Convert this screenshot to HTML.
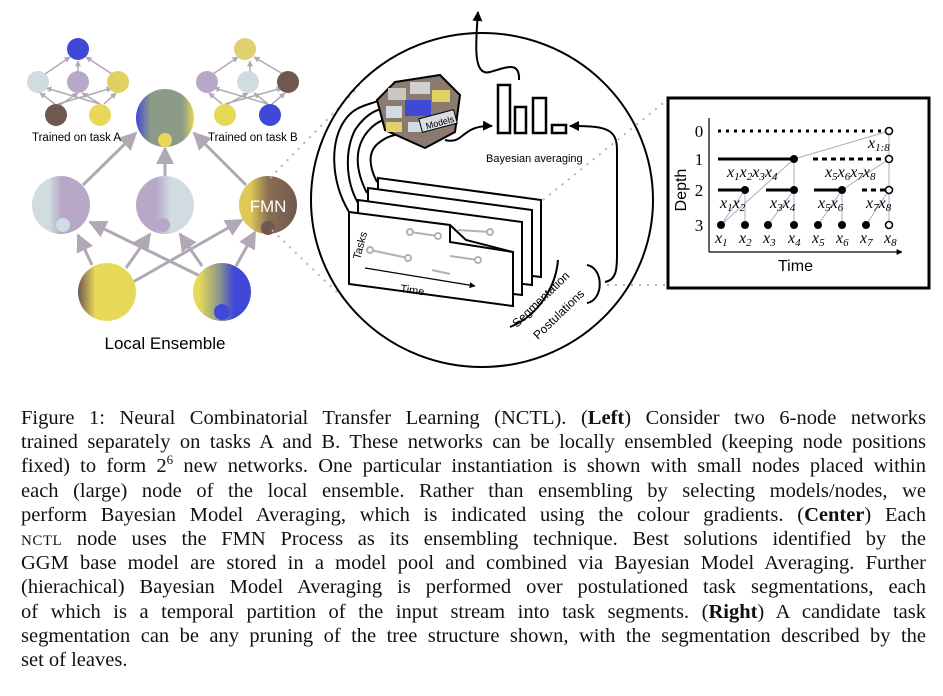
<!DOCTYPE html>
<html><head><meta charset="utf-8"><style>
body{margin:0;width:943px;height:696px;background:#fff;overflow:hidden;position:relative;font-family:"Liberation Sans",sans-serif}
svg{position:absolute;left:0;top:0}
.cap{position:absolute;left:21px;width:905px;font-family:"Liberation Serif",serif;font-size:20.5px;line-height:24.2px;color:#111}
.cap div{text-align:justify;text-align-last:justify;white-space:nowrap;height:24.2px}
.cap div.last{text-align-last:left}
.sc{font-size:15px;letter-spacing:0.5px}
</style></head><body>
<svg width="943" height="400" viewBox="0 0 943 400">
<defs>
<marker id="ga" viewBox="0 0 10 10" refX="9" refY="5" markerWidth="4" markerHeight="4" orient="auto"><path d="M0,0L10,5L0,10z" fill="#b0a8b4"/></marker>
<marker id="gs" viewBox="0 0 10 10" refX="9" refY="5" markerWidth="6" markerHeight="6" orient="auto"><path d="M0,0L10,5L0,10z" fill="#b0a8b4"/></marker>
<marker id="ba" viewBox="0 0 10 10" refX="9" refY="5" markerWidth="5" markerHeight="5" orient="auto"><path d="M0,0L10,5L0,10z" fill="#000"/></marker>
<linearGradient id="g1" x1="0" x2="1"><stop offset="0" stop-color="#4048d8"/><stop offset="0.25" stop-color="#8c9a88"/><stop offset="0.8" stop-color="#8c9a88"/><stop offset="1" stop-color="#e8d858"/></linearGradient>
<linearGradient id="g2" x1="0" x2="1"><stop offset="0.3" stop-color="#d0dce0"/><stop offset="0.5" stop-color="#b8a8c8"/></linearGradient>
<linearGradient id="g3" x1="0" x2="1"><stop offset="0.35" stop-color="#b8a8c8"/><stop offset="0.6" stop-color="#d0dce0"/></linearGradient>
<linearGradient id="g4" x1="0" x2="1"><stop offset="0.2" stop-color="#e0c858"/><stop offset="0.5" stop-color="#8a7050"/><stop offset="1" stop-color="#705850"/></linearGradient>
<linearGradient id="g5" x1="0" x2="1"><stop offset="0" stop-color="#705850"/><stop offset="0.3" stop-color="#e8d858"/></linearGradient>
<linearGradient id="g6" x1="0" x2="1"><stop offset="0.1" stop-color="#e8d858"/><stop offset="0.45" stop-color="#8c9a88"/><stop offset="0.7" stop-color="#4048d8"/></linearGradient>
</defs>
<g stroke="#b0a8b4" stroke-width="1.5" marker-end="url(#ga)">
<line x1="78" y1="73" x2="78" y2="61"/><line x1="45" y1="74" x2="70" y2="57"/><line x1="112" y1="74" x2="86" y2="57"/>
<line x1="55" y1="104" x2="40" y2="93"/><line x1="58" y1="104" x2="112" y2="88"/><line x1="60" y1="105" x2="78" y2="93"/>
<line x1="100" y1="104" x2="46" y2="88"/><line x1="100" y1="104" x2="82" y2="93"/><line x1="104" y1="104" x2="116" y2="93"/>
<line x1="250" y1="73" x2="250" y2="61"/><line x1="213" y1="74" x2="238" y2="57"/><line x1="283" y1="74" x2="254" y2="57"/>
<line x1="222" y1="104" x2="209" y2="93"/><line x1="225" y1="104" x2="282" y2="88"/><line x1="226" y1="105" x2="248" y2="93"/>
<line x1="268" y1="104" x2="214" y2="88"/><line x1="268" y1="104" x2="254" y2="93"/><line x1="272" y1="104" x2="285" y2="93"/>
</g>
<g stroke="#b0a8b4" stroke-width="3" marker-end="url(#gs)">
<line x1="83" y1="185" x2="136" y2="133"/><line x1="165" y1="176" x2="165" y2="148"/><line x1="246" y1="185" x2="194" y2="133"/>
<line x1="92" y1="265" x2="78" y2="235"/><line x1="126" y1="268" x2="150" y2="234"/><line x1="133" y1="282" x2="242" y2="220"/>
<line x1="200" y1="276" x2="90" y2="222"/><line x1="202" y1="266" x2="180" y2="234"/><line x1="236" y1="266" x2="255" y2="232"/>
</g>
<circle cx="78" cy="49" r="11" fill="#4048d8"/>
<circle cx="38" cy="82" r="11" fill="#d0dce0"/><circle cx="78" cy="82" r="11" fill="#b8a8c8"/><circle cx="118" cy="82" r="11" fill="#e0d060"/>
<circle cx="56" cy="115" r="11" fill="#705850"/><circle cx="100" cy="115" r="11" fill="#e8d858"/>
<circle cx="245" cy="49" r="11" fill="#e0d070"/>
<circle cx="207" cy="82" r="11" fill="#b8a8c8"/><circle cx="248" cy="82" r="11" fill="#d0dce0"/><circle cx="288" cy="82" r="11" fill="#705850"/>
<circle cx="225" cy="115" r="11" fill="#e8d858"/><circle cx="270" cy="115" r="11" fill="#4048d8"/>
<text x="32" y="141" font-size="11.5">Trained on task A</text>
<text x="208" y="141" font-size="11.5">Trained on task B</text>
<circle cx="165" cy="118" r="29" fill="url(#g1)"/><circle cx="165" cy="140" r="7" fill="#e8d858"/>
<circle cx="61" cy="205" r="29" fill="url(#g2)"/><circle cx="63" cy="225" r="7" fill="#d0dce0"/>
<circle cx="165" cy="205" r="29" fill="url(#g3)"/><circle cx="163" cy="225" r="7" fill="#b8a8c8"/>
<circle cx="268" cy="205" r="29" fill="url(#g4)"/><circle cx="268" cy="228" r="7" fill="#705850"/>
<text x="268" y="212" font-size="17" fill="#fff" text-anchor="middle">FMN</text>
<circle cx="107" cy="292" r="29" fill="url(#g5)"/>
<circle cx="222" cy="292" r="29" fill="url(#g6)"/><circle cx="222" cy="312" r="8" fill="#4048d8"/>
<text x="165" y="349" font-size="17" text-anchor="middle">Local Ensemble</text>
<g stroke="#b8b0c0" stroke-width="2" stroke-dasharray="2,6" fill="none">
<line x1="270" y1="178" x2="360" y2="86"/><line x1="272" y1="230" x2="345" y2="300"/>
<line x1="543" y1="200" x2="667" y2="100"/><line x1="607" y1="285" x2="667" y2="285"/>
</g>
<ellipse cx="482" cy="200" rx="171" ry="167" fill="none" stroke="#000" stroke-width="2"/>
<g stroke="#000" stroke-width="2" fill="none">
<path d="M519,80 C520,60 505,68 490,72 C472,77 476,40 478,12" marker-end="url(#ba)"/>
<path d="M445,140 C465,145 460,125 492,126" marker-end="url(#ba)"/>
<path d="M605,282 C616,280 617,270 617,255 L617,150 C617,128 605,126 570,126" marker-end="url(#ba)"/>
<path d="M587,265 C604,268 604,300 587,303"/>
<path d="M558,260 C556,285 540,315 510,327"/>
<path d="M349,212 C330,180 330,140 345,120 C355,105 370,105 380,100"/>
<path d="M358,203 C345,180 345,150 355,130 C365,115 375,110 385,108"/>
<path d="M367,193 C355,170 355,150 365,135 C372,125 380,120 390,118"/>
<path d="M377,182 C368,165 368,150 380,142 C385,138 390,136 395,135"/>
</g>
<g stroke="#000" stroke-width="2" fill="#fff">
<polygon points="378,178 541,200 541,277 378,258"/>
<polygon points="368,188 532,210 532,285 368,266"/>
<polygon points="358,200 522,222 522,295 358,276"/>
<polygon points="349,212 450,225 466,240 513,252 513,306 349,284"/>
<polyline points="450,225 450,242 513,252" fill="none"/>
</g>
<g stroke="#aab4bc" stroke-width="2" fill="#fff">
<line x1="370" y1="250" x2="408" y2="258"/><circle cx="370" cy="250" r="3"/><circle cx="408" cy="258" r="3"/>
<line x1="410" y1="232" x2="438" y2="236"/><circle cx="410" cy="232" r="3"/><circle cx="438" cy="236" r="3"/>
<line x1="458" y1="230" x2="490" y2="232"/><circle cx="490" cy="232" r="3"/>
<line x1="450" y1="256" x2="478" y2="260"/><circle cx="478" cy="260" r="3"/>
<line x1="432" y1="270" x2="450" y2="274"/>
</g>
<line x1="365" y1="268" x2="475" y2="286" stroke="#000" stroke-width="1.2" marker-end="url(#ba)"/>
<text x="400" y="292" font-size="11" transform="rotate(8 400 292)">Time</text>
<text x="360" y="260" font-size="11" transform="rotate(-75 360 260)">Tasks</text>
<text x="517" y="328" font-size="12" transform="rotate(-44 517 328)">Segmentation</text>
<text x="538" y="340" font-size="12" transform="rotate(-44 538 340)">Postulations</text>
<polygon points="395,82 440,75 460,95 455,132 425,148 385,130 377,100" fill="#8a7a70" stroke="#000" stroke-width="2"/>
<rect x="388" y="88" width="18" height="12" fill="#c8c8c0"/><rect x="410" y="82" width="20" height="12" fill="#d0d0d0"/><rect x="432" y="90" width="18" height="12" fill="#e0d060"/>
<rect x="405" y="100" width="26" height="16" fill="#4048d8"/><rect x="386" y="106" width="16" height="12" fill="#d0dce0"/>
<rect x="386" y="122" width="16" height="10" fill="#e0d070"/><rect x="408" y="122" width="16" height="10" fill="#d0dce0"/>
<rect x="420" y="114" width="36" height="14" fill="#d8dce0" stroke="#000" stroke-width="1" transform="rotate(-15 438 121)"/>
<text x="425" y="126" font-size="9" transform="rotate(-15 438 121)">Models</text>
<g fill="#fff" stroke="#000" stroke-width="2.5">
<rect x="498" y="85" width="12" height="48"/><rect x="515" y="107" width="11" height="26"/><rect x="533" y="98" width="13" height="35"/><rect x="552" y="125" width="14" height="8"/>
</g>
<text x="486" y="162" font-size="11">Bayesian averaging</text>
<rect x="668" y="98" width="261" height="190" fill="#fff" stroke="#000" stroke-width="3"/>
<g stroke="#b0a8c8" stroke-width="1">
<line x1="721" y1="225" x2="794" y2="159"/><line x1="794" y1="159" x2="889" y2="131"/>
<line x1="745" y1="225" x2="745" y2="190"/><line x1="768" y1="225" x2="794" y2="190"/><line x1="794" y1="225" x2="794" y2="159"/>
<line x1="842" y1="225" x2="842" y2="190"/><line x1="818" y1="225" x2="842" y2="190"/><line x1="842" y1="190" x2="889" y2="159"/>
<line x1="866" y1="225" x2="889" y2="190"/><line x1="889" y1="225" x2="889" y2="131"/><line x1="721" y1="225" x2="745" y2="190"/>
</g>
<line x1="718" y1="131" x2="886" y2="131" stroke="#000" stroke-width="3" stroke-dasharray="3,5"/>
<line x1="718" y1="159" x2="794" y2="159" stroke="#000" stroke-width="3"/>
<line x1="813" y1="159" x2="886" y2="159" stroke="#000" stroke-width="3" stroke-dasharray="5,4"/>
<line x1="718" y1="190" x2="745" y2="190" stroke="#000" stroke-width="3"/>
<line x1="766" y1="190" x2="794" y2="190" stroke="#000" stroke-width="3"/>
<line x1="814" y1="190" x2="842" y2="190" stroke="#000" stroke-width="3"/>
<line x1="862" y1="190" x2="886" y2="190" stroke="#000" stroke-width="3" stroke-dasharray="5,4"/>
<g fill="#000">
<circle cx="794" cy="159" r="4"/><circle cx="745" cy="190" r="4"/><circle cx="794" cy="190" r="4"/><circle cx="842" cy="190" r="4"/>
<circle cx="721" cy="225" r="4"/><circle cx="745" cy="225" r="4"/><circle cx="768" cy="225" r="4"/><circle cx="794" cy="225" r="4"/><circle cx="818" cy="225" r="4"/><circle cx="842" cy="225" r="4"/><circle cx="866" cy="225" r="4"/>
</g>
<g fill="#fff" stroke="#000" stroke-width="1.6">
<circle cx="889" cy="131" r="3.5"/><circle cx="889" cy="159" r="3.5"/><circle cx="889" cy="190" r="3.5"/><circle cx="889" cy="225" r="3.5"/>
</g>
<line x1="709" y1="118" x2="709" y2="252" stroke="#000" stroke-width="1.2"/>
<line x1="709" y1="252" x2="902" y2="252" stroke="#000" stroke-width="1.2" marker-end="url(#ba)"/>
<g font-family="Liberation Serif,serif" font-size="17">
<text x="699" y="137" text-anchor="middle">0</text><text x="699" y="165" text-anchor="middle">1</text><text x="699" y="196" text-anchor="middle">2</text><text x="699" y="231" text-anchor="middle">3</text>
</g>
<g font-family="Liberation Serif,serif" font-style="italic" font-size="16">
<text x="868" y="148">x<tspan font-size="11" dy="3">1:8</tspan></text>
<text x="727" y="177">x<tspan font-size="11" dy="3">1</tspan><tspan dy="-3">x</tspan><tspan font-size="11" dy="3">2</tspan><tspan dy="-3">x</tspan><tspan font-size="11" dy="3">3</tspan><tspan dy="-3">x</tspan><tspan font-size="11" dy="3">4</tspan></text>
<text x="825" y="177">x<tspan font-size="11" dy="3">5</tspan><tspan dy="-3">x</tspan><tspan font-size="11" dy="3">6</tspan><tspan dy="-3">x</tspan><tspan font-size="11" dy="3">7</tspan><tspan dy="-3">x</tspan><tspan font-size="11" dy="3">8</tspan></text>
<text x="720" y="208">x<tspan font-size="11" dy="3">1</tspan><tspan dy="-3">x</tspan><tspan font-size="11" dy="3">2</tspan></text>
<text x="770" y="208">x<tspan font-size="11" dy="3">3</tspan><tspan dy="-3">x</tspan><tspan font-size="11" dy="3">4</tspan></text>
<text x="818" y="208">x<tspan font-size="11" dy="3">5</tspan><tspan dy="-3">x</tspan><tspan font-size="11" dy="3">6</tspan></text>
<text x="866" y="208">x<tspan font-size="11" dy="3">7</tspan><tspan dy="-3">x</tspan><tspan font-size="11" dy="3">8</tspan></text>
<text x="715" y="243">x<tspan font-size="11" dy="3">1</tspan></text><text x="739" y="243">x<tspan font-size="11" dy="3">2</tspan></text>
<text x="763" y="243">x<tspan font-size="11" dy="3">3</tspan></text><text x="788" y="243">x<tspan font-size="11" dy="3">4</tspan></text>
<text x="812" y="243">x<tspan font-size="11" dy="3">5</tspan></text><text x="836" y="243">x<tspan font-size="11" dy="3">6</tspan></text>
<text x="860" y="243">x<tspan font-size="11" dy="3">7</tspan></text><text x="884" y="243">x<tspan font-size="11" dy="3">8</tspan></text>
</g>
<text x="778" y="271" font-size="16">Time</text>
<text x="686" y="190" font-size="16" transform="rotate(-90 686 190)" text-anchor="middle">Depth</text>
</svg>
<div class="cap" style="top:406px">
<div>Figure 1: Neural Combinatorial Transfer Learning (NCTL). (<b>Left</b>) Consider two 6-node networks</div>
<div>trained separately on tasks A and B. These networks can be locally ensembled (keeping node positions</div>
<div>fixed) to form 2<sup style="font-size:13px;line-height:0">6</sup> new networks. One particular instantiation is shown with small nodes placed within</div>
<div>each (large) node of the local ensemble. Rather than ensembling by selecting models/nodes, we</div>
<div>perform Bayesian Model Averaging, which is indicated using the colour gradients. (<b>Center</b>) Each</div>
<div><span class="sc">NCTL</span> node uses the FMN Process as its ensembling technique. Best solutions identified by the</div>
<div>GGM base model are stored in a model pool and combined via Bayesian Model Averaging. Further</div>
<div>(hierachical) Bayesian Model Averaging is performed over postulationed task segmentations, each</div>
<div>of which is a temporal partition of the input stream into task segments. (<b>Right</b>) A candidate task</div>
<div>segmentation can be any pruning of the tree structure shown, with the segmentation described by the</div>
<div class="last">set of leaves.</div>
</div>
</body></html>
